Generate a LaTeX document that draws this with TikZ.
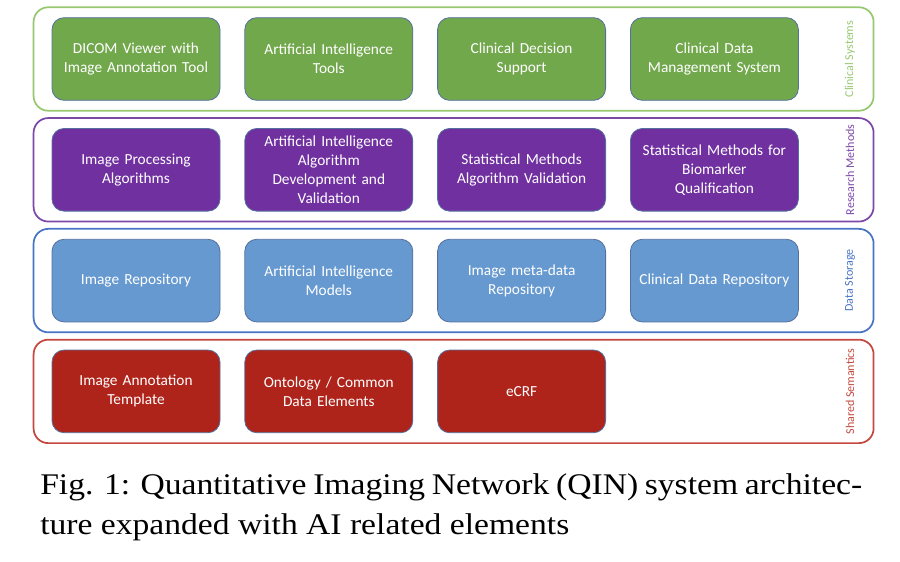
\documentclass[tikz,border=0pt]{standalone}
\usepackage{fontspec}
\setmainfont{Liberation Serif}
\newfontfamily\qinfont{Carlito}
\newfontfamily\captfont[FakeStretch=1.12]{Liberation Serif}
\usetikzlibrary{positioning,calc}
\definecolor{qedge}{RGB}{84,112,158}
\definecolor{qcs}{RGB}{114,168,76}
\definecolor{qcsl}{RGB}{150,200,112}
\definecolor{qrm}{RGB}{112,48,160}
\definecolor{qrml}{RGB}{124,72,168}
\definecolor{qds}{RGB}{102,153,208}
\definecolor{qdsl}{RGB}{72,116,196}
\definecolor{qss}{RGB}{174,35,26}
\definecolor{qssl}{RGB}{196,72,62}
\tikzset{
  qbox/.style={
    draw=qedge, line width=0.6pt, rounded corners=9pt,
    minimum width=126pt, minimum height=62pt, text width=120pt,
    align=center, inner sep=0pt, text=white,
    font=\qinfont\fontsize{11.5}{14.2}\selectfont
  },
  cs/.style={qbox, fill=qcs},
  rm/.style={qbox, fill=qrm},
  ds/.style={qbox, fill=qds},
  ss/.style={qbox, fill=qss},
  layer/.style={line width=1.3pt, rounded corners=11pt},
  tag/.style={rotate=90, font=\qinfont\fontsize{9}{10}\selectfont},
  capt/.style={align=left, inner sep=0pt, font=\captfont\fontsize{22.5}{29.3}\selectfont}
}

\begin{document}
\begin{tikzpicture}[x=0.75pt, y=0.75pt, node distance=20.5pt and 18pt]
  \useasboundingbox (0,0) rectangle (900,561);
  % clinical systems
  \node[cs] (cs1) at (136,502) {DICOM Viewer with\\Image Annotation Tool};
  \node[cs, right=of cs1] (cs2) {Artificial Intelligence\\Tools};
  \node[cs, right=of cs2] (cs3) {Clinical Decision\\Support};
  \node[cs, right=of cs3] (cs4) {Clinical Data\\Management System};
  % research methods
  \node[rm, below=of cs1] (rm1) {Image Processing\\Algorithms};
  \node[rm, right=of rm1] (rm2) {Artificial Intelligence\\Algorithm\\Development and\\Validation};
  \node[rm, right=of rm2] (rm3) {Statistical Methods\\Algorithm Validation};
  \node[rm, right=of rm3] (rm4) {Statistical Methods for\\Biomarker\\Qualification};
  % data storage
  \node[ds, below=of rm1] (ds1) {Image Repository};
  \node[ds, right=of ds1] (ds2) {Artificial Intelligence\\Models};
  \node[ds, right=of ds2] (ds3) {Image meta-data\\Repository};
  \node[ds, right=of ds3] (ds4) {Clinical Data Repository};
  % shared semantics
  \node[ss, below=of ds1] (ss1) {Image Annotation\\Template};
  \node[ss, right=of ss1] (ss2) {Ontology / Common\\Data Elements};
  \node[ss, right=of ss2] (ss3) {eCRF};
  % layer frames and side labels
  \foreach \r/\c/\t in {cs/qcsl/Clinical Systems, rm/qrml/Research Methods,
                         ds/qdsl/Data Storage, ss/qssl/Shared Semantics} {
    \draw[layer, draw=\c] ($(\r1.north west)+(-18,10)$) rectangle ($(\r1.south west)+(822,-10)$);
    \node[tag, text=\c] (\r tag) at ($(\r1.center)+(714,0)$) {\t};
  }
  \node[capt, anchor=base west] (cap) at (40,27)
    {\makebox[616.5pt][s]{Fig. 1: Quantitative Imaging Network (QIN) system architec-}\\ture expanded with AI related elements};
\end{tikzpicture}
\end{document}
